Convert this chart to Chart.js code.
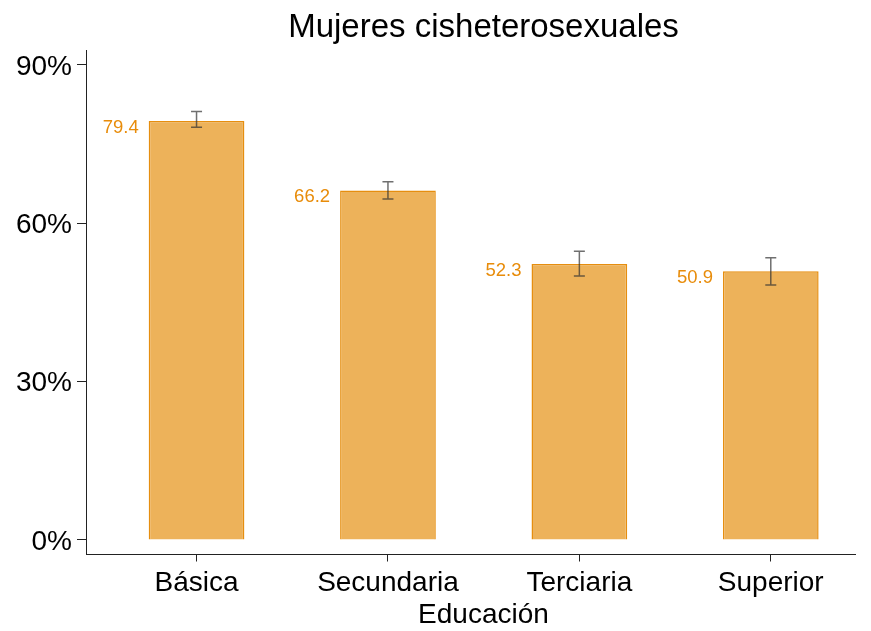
<!DOCTYPE html>
<html>
<head>
<meta charset="utf-8">
<script src="https://cdn.jsdelivr.net/npm/chart.js@4"></script>
<style>
html,body{margin:0;padding:0;background:#fff;}
#wrap{width:871px;height:631px;position:relative;}
</style>
</head>
<body>
<div id="wrap"><canvas id="c" width="871" height="631"></canvas></div>
<script>
const chartTitle = "Mujeres cisheterosexuales";
const xTitle = "Educación";
const categories = ["Básica", "Secundaria", "Terciaria", "Superior"];
const values = [79.4, 66.2, 52.3, 50.9];
const ciLow = [78.2, 64.6, 50.0, 48.3];
const ciHigh = [81.2, 67.9, 54.7, 53.5];
const yTicks = [0, 30, 60, 90];

const FONT = "'Liberation Sans', Arial, Helvetica, sans-serif";
const barFill = "rgb(237,178,90)";
const barEdge = "rgb(230,142,15)";
const labelColor = "rgb(232,140,10)";
const axisColor = "#222";

const points = categories.map((c, i) => ({ x: i + 1, y: values[i] }));

const extras = {
  id: "extras",
  afterDatasetsDraw(chart) {
    const ctx = chart.ctx;
    const xs = chart.scales.x, ys = chart.scales.y;
    const meta = chart.getDatasetMeta(0);
    ctx.save();
    // error bars
    ctx.strokeStyle = "rgba(50,50,50,0.7)";
    ctx.lineWidth = 1.5;
    categories.forEach((c, i) => {
      const px = xs.getPixelForValue(i + 1);
      const yl = ys.getPixelForValue(ciLow[i]);
      const yh = ys.getPixelForValue(ciHigh[i]);
      ctx.beginPath();
      ctx.moveTo(px, yl); ctx.lineTo(px, yh);
      ctx.moveTo(px - 5.5, yl); ctx.lineTo(px + 5.5, yl);
      ctx.moveTo(px - 5.5, yh); ctx.lineTo(px + 5.5, yh);
      ctx.stroke();
    });
    // value labels
    ctx.fillStyle = labelColor;
    ctx.font = "18.5px " + FONT;
    ctx.textAlign = "right";
    ctx.textBaseline = "middle";
    meta.data.forEach((bar, i) => {
      const left = bar.x - bar.width / 2;
      ctx.fillText(values[i].toFixed(1), left - 10, bar.y + 6.5);
    });
    // title and x-axis title
    ctx.fillStyle = "#000";
    ctx.textAlign = "center";
    ctx.textBaseline = "alphabetic";
    ctx.font = "33px " + FONT;
    ctx.fillText(chartTitle, 483.5, 37);
    ctx.font = "28px " + FONT;
    ctx.fillText(xTitle, 483.5, 623);
    ctx.restore();
  }
};

new Chart(document.getElementById("c"), {
  type: "bar",
  data: {
    datasets: [{
      data: points,
      backgroundColor: barFill,
      borderColor: barEdge,
      borderWidth: 1.5,
      categoryPercentage: 1,
      barPercentage: 0.5
    }]
  },
  options: {
    responsive: false,
    animation: false,
    events: [],
    layout: { padding: { left: 0, right: 16, top: 50, bottom: 0 } },
    plugins: {
      legend: { display: false },
      tooltip: { enabled: false },
      title: { display: false }
    },
    scales: {
      x: {
        type: "linear",
        min: 0.4225,
        max: 4.44,
        offset: false,
        afterBuildTicks(scale) { scale.ticks = categories.map((c, i) => ({ value: i + 1 })); },
        afterFit(scale) { scale.height = 76.5; },
        ticks: {
          color: "#000",
          font: { family: FONT, size: 28 },
          padding: 5,
          maxRotation: 0,
          autoSkip: false,
          callback: (v) => categories[Math.round(v) - 1]
        },
        grid: { offset: false, drawOnChartArea: false, drawTicks: true, tickLength: 7, color: axisColor, lineWidth: 1 },
        border: { display: true, color: axisColor, width: 1 },
        title: { display: false }
      },
      y: {
        min: -2.75,
        max: 92.84,
        afterBuildTicks(scale) { scale.ticks = yTicks.map(v => ({ value: v })); },
        afterFit(scale) { scale.width = 86; },
        ticks: {
          color: "#000",
          font: { family: FONT, size: 28 },
          padding: 5,
          labelOffset: 2,
          callback: (v) => v + "%"
        },
        grid: { drawOnChartArea: false, drawTicks: true, tickLength: 9, color: axisColor, lineWidth: 1 },
        border: { display: true, color: axisColor, width: 1 }
      }
    }
  },
  plugins: [extras]
});
</script>
</body>
</html>
